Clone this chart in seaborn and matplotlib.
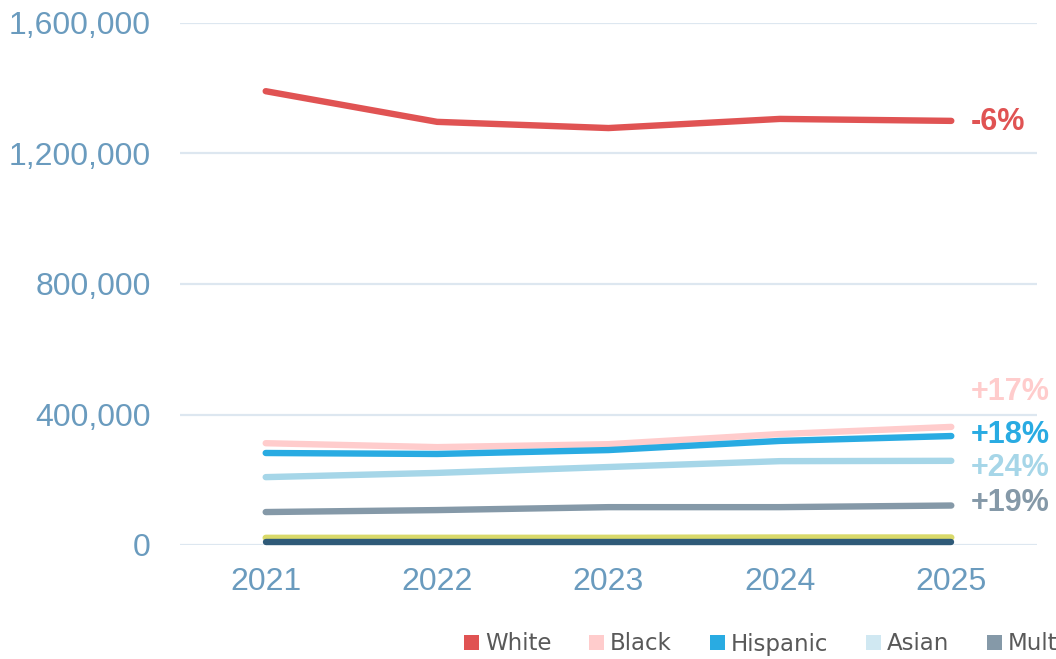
import matplotlib
matplotlib.use("Agg")
import matplotlib.pyplot as plt
from matplotlib.patches import Patch
from matplotlib.ticker import FuncFormatter
import seaborn as sns
import pandas as pd

years = [2021, 2022, 2023, 2024, 2025]
white = [1391000, 1297000, 1278000, 1306000, 1300000]
black = [312000, 300000, 309000, 340000, 362000]
hispanic = [282000, 279000, 291000, 319000, 334000]
asian = [208000, 221000, 239000, 257000, 258000]
multiracial = [101000, 107000, 116000, 116000, 121000]
pacific = [22000, 22000, 22000, 23000, 23000]
native = [9000, 9000, 9000, 9000, 9000]

series_names = ["White", "Black", "Hispanic", "Asian", "Multiracial",
                "Pacific Islander", "American Indian"]
series_values = [white, black, hispanic, asian, multiracial, pacific, native]
pct_labels = ["-6%", "+17%", "+18%", "+24%", "+19%", None, None]
yticks = [0, 400000, 800000, 1200000, 1600000]

line_colors = ["#E05353", "#FFCCCC", "#29ABE2", "#A6D6E8", "#8599A8", "#D9D96A", "#2F5A78"]
legend_colors = ["#E05353", "#FFCCCC", "#29ABE2", "#D0E8F2", "#8599A8", "#D9D96A", "#2F5A78"]
label_offsets = [-1, 25, 1, -5, 2, 0, 0]  # points, vertical

rows = []
for name, vals in zip(series_names, series_values):
    for i, v in enumerate(vals):
        rows.append({"pos": i, "year": str(years[i]), "group": name, "value": v})
df = pd.DataFrame(rows)

sns.set_theme(style="white")
plt.rcParams["font.family"] = ["Liberation Sans", "DejaVu Sans"]

fig = plt.figure(figsize=(10.56, 6.59), dpi=100)
ax = fig.add_axes([180 / 1056, 1 - 545 / 659, (1037 - 180) / 1056, (545 - 23) / 659])

sns.lineplot(data=df, x="pos", y="value", hue="group", hue_order=series_names,
             palette=dict(zip(series_names, line_colors)), linewidth=4.6,
             ax=ax, legend=False)
for ln in ax.get_lines():
    ln.set_clip_on(False)
    ln.set_solid_capstyle("round")
ax.set_xlim(-0.5, len(years) - 0.5)
ax.set_ylim(0, 1600000)
ax.set_xticks(range(len(years)))
ax.set_xticklabels([str(y) for y in years])
ax.set_yticks(yticks)
ax.yaxis.set_major_formatter(FuncFormatter(lambda v, p: f"{int(v):,}"))
ax.tick_params(axis="both", length=0, labelsize=23, colors="#6A9BBE")
ax.tick_params(axis="x", pad=16)
ax.tick_params(axis="y", pad=21)
ax.grid(axis="y", color="#DDE7F0", linewidth=1.6)
ax.set_axisbelow(True)
for s in ax.spines.values():
    s.set_visible(False)
ax.set_xlabel("")
ax.set_ylabel("")

for name, vals, lab, col, off in zip(series_names, series_values, pct_labels, line_colors, label_offsets):
    if lab is None:
        continue
    ax.annotate(lab, xy=(len(years) - 1, vals[-1]), xytext=(14, off),
                textcoords="offset points", ha="left", va="center",
                fontsize=22, fontweight="bold", color=col, annotation_clip=False)

handles = [Patch(facecolor=c, edgecolor="none") for c in legend_colors]
leg = fig.legend(handles, series_names, loc="center left",
                 bbox_to_anchor=(464 / 1056, 1 - 644 / 659), ncol=len(series_names),
                 frameon=False, borderpad=0, borderaxespad=0,
                 handlelength=0.66, handleheight=0.66, handletextpad=0.25,
                 columnspacing=1.65, prop={"family": "DejaVu Sans", "size": 16.5})
for t in leg.get_texts():
    t.set_color("#595959")

fig.savefig("out.png", dpi=100)
